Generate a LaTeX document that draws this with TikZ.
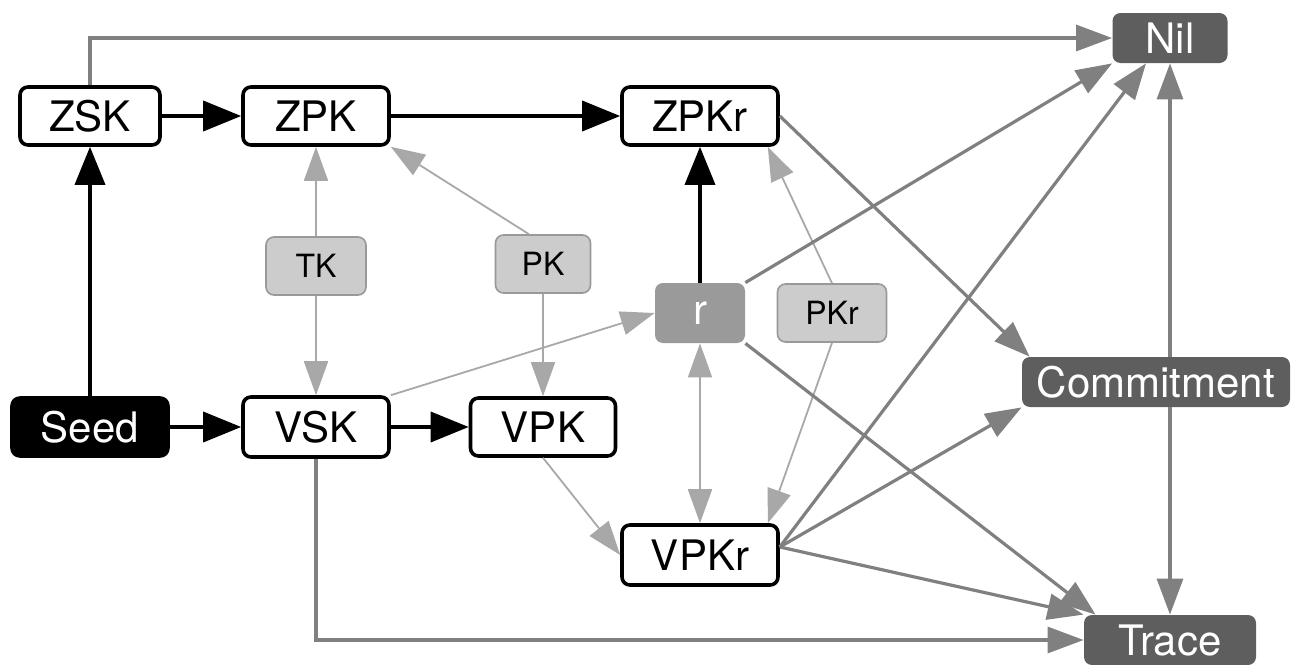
\documentclass[tikz,border=0pt]{standalone}
\usepackage{fontspec}
\setmainfont{TeX Gyre Heros}
\usetikzlibrary{arrows.meta}
\definecolor{outgray}{HTML}{5E5E5E}
\definecolor{rgray}{HTML}{9A9A9A}
\definecolor{tagfill}{HTML}{CCCCCC}
\definecolor{taggray}{HTML}{999999}
\definecolor{edgegray}{HTML}{808080}
\definecolor{faintgray}{HTML}{A8A8A8}
\tikzstyle{kbox} = [rectangle, draw, line width=1.8pt, fill=white,
    rounded corners=4pt, minimum height=29pt, minimum width=73pt,
    inner sep=2pt, font=\fontsize{21}{24}\selectfont]
\tikzstyle{seedbox} = [kbox, fill=black, text=white]
\tikzstyle{outbox} = [rectangle, fill=outgray, text=white, rounded corners=4pt,
    minimum height=25pt, inner sep=2pt, font=\fontsize{21}{24}\selectfont]
\tikzstyle{tagbox} = [rectangle, draw=taggray, fill=tagfill, line width=0.8pt,
    rounded corners=4pt, minimum height=29pt, inner sep=2pt,
    font=\fontsize{16}{18}\selectfont]
\tikzstyle{rbox} = [rectangle, fill=rgray, text=white, rounded corners=4pt,
    minimum width=45pt, minimum height=30pt, font=\fontsize{21}{24}\selectfont]
\tikzstyle{strong} = [draw=black, line width=1.8pt, ->,
    >={Triangle[length=19pt,width=15pt]}]
\tikzstyle{medium} = [draw=edgegray, line width=1.6pt, ->,
    >={Triangle[length=18pt,width=13pt]}]
\tikzstyle{faint} = [draw=faintgray, line width=0.9pt, ->,
    >={Triangle[length=17pt,width=12pt]}]

\begin{document}
\begin{tikzpicture}
  \useasboundingbox (-45pt,58pt) rectangle (604pt,-274.5pt);

  % top row
  \node[kbox, minimum width=70pt] (zsk) {ZSK};
  \node[kbox] (zpk) [right of=zsk, node distance=113pt] {ZPK};
  \node[kbox, minimum width=78pt] (zpkr) [right of=zpk, node distance=192pt] {ZPKr};
  \node[outbox, minimum width=57.5pt] (nil) [right of=zpkr, node distance=235pt, yshift=39pt] {Nil};

  % bottom row
  \node[seedbox, minimum width=78pt] (seed) [below of=zsk, node distance=155.5pt] {Seed};
  \node[kbox, minimum height=30pt] (vsk) [right of=seed, node distance=113pt] {VSK};
  \node[kbox, minimum width=72.5pt] (vpk) [right of=vsk, node distance=113.5pt] {VPK};

  % middle
  \node[tagbox, minimum width=50pt] (tk) [above of=vsk, node distance=80.5pt] {TK};
  \node[tagbox, minimum width=47.5pt] (pk) [above of=vpk, node distance=81.5pt] {PK};
  \node[rbox] (r) [below of=zpkr, node distance=98.5pt] {r};
  \node[tagbox, minimum width=54.5pt] (pkr) [right of=r, node distance=66pt] {PKr};
  \node[kbox, minimum width=78pt, minimum height=30pt] (vpkr) [below of=r, node distance=121pt] {VPKr};
  \node[outbox, minimum width=134pt] (commit) [right of=pkr, node distance=162pt, yshift=-34.5pt] {Commitment};
  \node[outbox, minimum width=86pt] (trace) [right of=vpkr, node distance=235pt, yshift=-42.5pt] {Trace};

  % derivations
  \path (seed) edge[strong] (zsk)
        (zsk)  edge[strong] (zpk)
        (zpk)  edge[strong] (zpkr)
        (seed) edge[strong] (vsk)
        (vsk)  edge[strong] (vpk)
        (r)    edge[strong] (zpkr);

  \path (tk) edge[faint] (zpk)
        (tk) edge[faint] (vsk)
        ([xshift=-7pt]pk.north) edge[faint] (zpk.south east)
        (pk) edge[faint] (vpk)
        (vsk.north east) edge[faint] (r.west)
        (r)  edge[faint, <->] (vpkr)
        (pkr.north) edge[faint] ([xshift=-6pt]zpkr.south east)
        (pkr.south) edge[faint] ([xshift=-6pt]vpkr.north east)
        (vpk.south) edge[faint] (vpkr.west);

  % outputs
  \draw[medium] (zsk.north) |- (nil.west);
  \draw[medium] (vsk.south) |- (trace.west);
  \path (r.north east) edge[medium] (nil.south west)
        ([yshift=4pt]vpkr.east) edge[medium] ([xshift=-12pt]nil.south)
        ([yshift=4pt]vpkr.east) edge[medium] (commit.south west)
        ([yshift=4pt]vpkr.east) edge[medium] (trace.north west)
        (zpkr.east) edge[medium] ([xshift=4pt]commit.north west)
        (r.south east) edge[medium] ([xshift=6pt]trace.north west)
        (commit.north -| nil.south) edge[medium] (nil.south)
        (commit.south -| trace.north) edge[medium] (trace.north);
\end{tikzpicture}
\end{document}
